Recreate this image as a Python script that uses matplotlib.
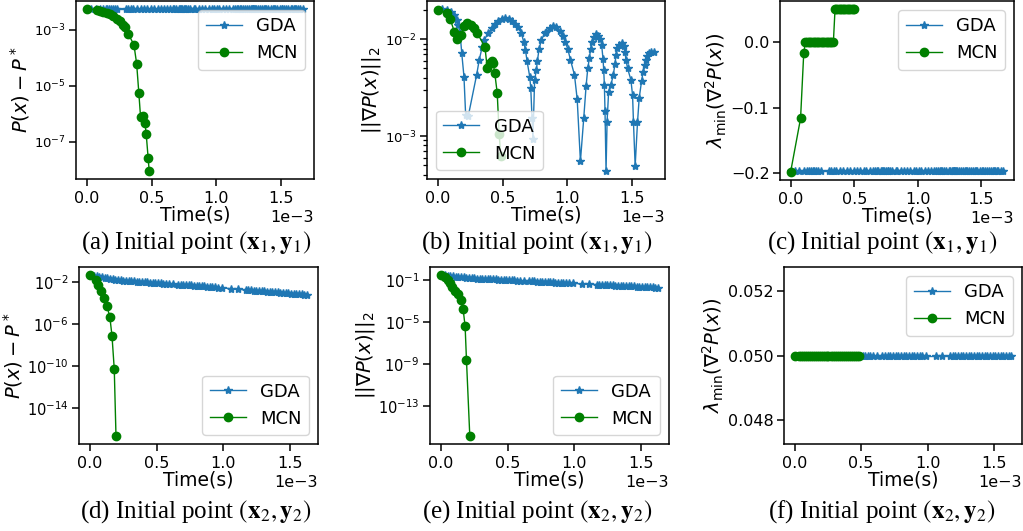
import matplotlib

matplotlib.use("Agg")
import matplotlib.pyplot as plt
from matplotlib.ticker import NullLocator

W, H = 1023, 531

# ---- run from initial point (x1, y1): panels (a), (b), (c) ----
# time stamps in units of 1e-3 s
t_gda_1 = [
    0.0, 0.035, 0.069, 0.102, 0.128, 0.146, 0.159, 0.172, 0.185, 0.202,
    0.215, 0.235, 0.3, 0.32, 0.343, 0.358, 0.389, 0.415, 0.44, 0.466,
    0.497, 0.523, 0.548, 0.574, 0.595, 0.62, 0.646, 0.664, 0.677, 0.69,
    0.71, 0.718, 0.728, 0.735, 0.748, 0.762, 0.769, 0.782, 0.8, 0.826,
    0.838, 0.864, 0.889, 0.915, 0.941, 0.966, 0.985, 1.005, 1.025, 1.056,
    1.077, 1.102, 1.128, 1.146, 1.159, 1.172, 1.18, 1.192, 1.205, 1.223,
    1.241, 1.256, 1.266, 1.277, 1.282, 1.287, 1.292, 1.3, 1.308, 1.32,
    1.338, 1.356, 1.369, 1.377, 1.387, 1.4, 1.42, 1.435, 1.446, 1.454,
    1.466, 1.492, 1.505, 1.512, 1.525, 1.543, 1.556, 1.574, 1.587, 1.6,
    1.608, 1.62, 1.633, 1.651, 1.672,
]
gda_grad_1 = [
    0.0201, 0.0204, 0.0201, 0.0191, 0.0176, 0.0158, 0.0139, 0.01148, 0.00714, 0.00411,
    0.00166, 0.0016, 0.00428, 0.0061, 0.00832, 0.00977, 0.01148, 0.0129, 0.01426, 0.0155,
    0.0162, 0.0166, 0.0162, 0.0155, 0.01426, 0.0132, 0.01148, 0.00933, 0.00776, 0.00589,
    0.00411, 0.00316, 0.00155, 0.00093, 0.0038, 0.00482, 0.00589, 0.00785, 0.00977, 0.01148,
    0.0119, 0.0129, 0.0136, 0.0132, 0.01216, 0.0107, 0.00933, 0.00785, 0.0061, 0.00427,
    0.0024, 0.00055, 0.00155, 0.00331, 0.00501, 0.00646, 0.00785, 0.00933, 0.01054, 0.01122,
    0.0107, 0.0100, 0.0087, 0.00617, 0.00479, 0.00339, 0.00182, 0.000437, 0.00141, 0.00288,
    0.00339, 0.00427, 0.00555, 0.00686, 0.00804, 0.0087, 0.00903, 0.00851, 0.00741, 0.0061,
    0.00501, 0.0038, 0.00263, 0.00138, 0.00049, 0.00138, 0.00245, 0.00366, 0.00462, 0.00542,
    0.0061, 0.0067, 0.00714, 0.00741, 0.00741,
]
# GDA stays flat in (a) and (c)
gda_obj_1 = [5.3e-3] * len(t_gda_1)
gda_lam_1 = [-0.197] * len(t_gda_1)

t_mcn_obj_1 = [0.0, 0.077, 0.102, 0.128, 0.154, 0.179, 0.205, 0.231, 0.256, 0.282, 0.295,
               0.32, 0.364, 0.385, 0.402, 0.415, 0.436, 0.449, 0.459, 0.474, 0.482]
mcn_obj_1 = [5.4e-3, 5.18e-3, 4.79e-3, 4.40e-3, 3.98e-3, 3.55e-3, 3.02e-3, 2.40e-3, 1.95e-3,
             1.51e-3, 1.26e-3, 7.0e-4, 2.91e-4, 6.1e-5, 5.5e-6, 7.9e-7, 8.5e-7, 4.7e-7,
             1.86e-7, 2.6e-8, 9.1e-9]

t_mcn_grad_1 = [0.0, 0.074, 0.095, 0.128, 0.151, 0.177, 0.202, 0.223, 0.254, 0.279,
                0.305, 0.364, 0.382, 0.402, 0.415, 0.428, 0.44, 0.459, 0.474, 0.487]
mcn_grad_1 = [0.0201, 0.0186, 0.0162, 0.0119, 0.00993, 0.011, 0.0136, 0.0145, 0.0139, 0.0129,
              0.01148, 0.00832, 0.00501, 0.00562, 0.006, 0.00562, 0.00447, 0.00278, 0.00105,
              0.000617]

t_mcn_lam_1 = [0.0, 0.078, 0.103,
               0.116, 0.128, 0.141, 0.154, 0.167, 0.18, 0.192, 0.205, 0.218,
               0.231, 0.244, 0.256, 0.269, 0.282, 0.295, 0.308, 0.32, 0.336,
               0.349, 0.36, 0.372, 0.385, 0.397, 0.41, 0.423, 0.436, 0.449,
               0.462, 0.474, 0.487, 0.5]
mcn_lam_1 = [-0.198, -0.1166, -0.017,
             0.0, 0.0, 0.0, 0.0, 0.0, 0.0, 0.0, 0.0, 0.0,
             0.0, 0.0, 0.0, 0.0, 0.0, 0.0, 0.0, 0.0, 0.0,
             0.05, 0.05, 0.05, 0.05, 0.05, 0.05, 0.05, 0.05, 0.05,
             0.05, 0.05, 0.05, 0.05]

# ---- run from initial point (x2, y2): panels (d), (e), (f) ----
t_gda_2 = [
    0.0, 0.03, 0.05, 0.07, 0.09, 0.11, 0.13, 0.15, 0.17, 0.19,
    0.21, 0.23, 0.25, 0.27, 0.29, 0.31, 0.33, 0.35, 0.37, 0.39,
    0.41, 0.43, 0.45, 0.47, 0.49, 0.51, 0.53, 0.55, 0.57, 0.59,
    0.62, 0.66, 0.68, 0.70, 0.72, 0.74, 0.76, 0.78, 0.80, 0.82,
    0.84, 0.86, 0.88, 0.90, 0.92, 0.94, 0.96, 0.99, 1.06, 1.11,
    1.17, 1.19, 1.21, 1.23, 1.25, 1.27, 1.29, 1.31, 1.33, 1.35,
    1.37, 1.39, 1.41, 1.43, 1.45, 1.47, 1.49, 1.51, 1.53, 1.55,
    1.57, 1.59, 1.61, 1.63,
]
gda_obj_2 = [
    0.0427, 0.0363, 0.0324, 0.0295, 0.0263, 0.0234, 0.0209, 0.0191, 0.0170, 0.0151,
    0.0141, 0.0135, 0.0129, 0.0123, 0.0117, 0.0112, 0.0107, 0.0102, 0.00977, 0.00933,
    0.00891, 0.00851, 0.00813, 0.00782, 0.0075, 0.00721, 0.00693, 0.00665, 0.0064, 0.00615,
    0.00579, 0.00535, 0.00514, 0.00494, 0.00474, 0.00456, 0.00438, 0.00421, 0.00405, 0.00389,
    0.00371, 0.00354, 0.00337, 0.00321, 0.00306, 0.00292, 0.00279, 0.00259, 0.00219, 0.00195,
    0.00169, 0.00161, 0.00153, 0.00146, 0.00139, 0.00133, 0.00127, 0.00121, 0.00115, 0.0011,
    0.00105, 0.000998, 0.000951, 0.000908, 0.000865, 0.000824, 0.000785, 0.00075, 0.000714, 0.000681,
    0.000649, 0.000619, 0.00059, 0.000562,
]
gda_grad_2 = [
    0.295, 0.27, 0.254, 0.239, 0.225, 0.212, 0.1995, 0.188, 0.177, 0.1667,
    0.1567, 0.148, 0.1419, 0.1377, 0.1337, 0.1297, 0.1259, 0.1225, 0.1189, 0.1153,
    0.1119, 0.1086, 0.1057, 0.1026, 0.0995, 0.0966, 0.0938, 0.0912, 0.0885, 0.0859,
    0.0822, 0.0774, 0.0752, 0.0731, 0.071, 0.0689, 0.0668, 0.0649, 0.0631, 0.0612,
    0.0594, 0.0577, 0.056, 0.0545, 0.0528, 0.0513, 0.0498, 0.0476, 0.043, 0.0399,
    0.0366, 0.0355, 0.0344, 0.0334, 0.0325, 0.0315, 0.0306, 0.0297, 0.0288, 0.0281,
    0.0272, 0.0264, 0.0256, 0.0249, 0.0242, 0.0235, 0.0228, 0.0221, 0.0215, 0.0209,
    0.0203, 0.0197, 0.0191, 0.0185,
]
gda_lam_2 = [0.05] * len(t_gda_2)

t_mcn_obj_2 = [0.0, 0.045, 0.062, 0.083, 0.108, 0.128, 0.15, 0.166, 0.183, 0.196]
mcn_obj_2 = [0.0427, 0.0145, 0.0049, 0.00141, 2.7e-4, 5.1e-5, 4.4e-6, 7.6e-8, 5.4e-11, 2.5e-17]

t_mcn_grad_2 = [0.0, 0.032, 0.05, 0.07, 0.087, 0.107, 0.125, 0.15, 0.167, 0.182, 0.192, 0.217]
mcn_grad_2 = [0.295, 0.18, 0.1, 0.049, 0.0234, 0.01, 0.00447, 0.00129, 1.7e-4, 4.0e-6,
              2.8e-9, 1.6e-16]

t_mcn_lam_2 = [0.0, 0.03, 0.045, 0.06, 0.075, 0.09, 0.105, 0.12, 0.135, 0.15,
               0.165, 0.18, 0.195, 0.21, 0.225, 0.24, 0.25, 0.275, 0.29, 0.305,
               0.32, 0.335, 0.35, 0.365, 0.38, 0.395, 0.41, 0.425, 0.44, 0.455,
               0.47, 0.485]
mcn_lam_2 = [0.05] * len(t_mcn_lam_2)

# y tick positions shown on the long log axes
yticks_obj_2 = [1e-2, 1e-6, 1e-10, 1e-14]
yticks_grad_2 = [1e-1, 1e-5, 1e-9, 1e-13]

Y_OBJ = r"$P(x) - P^*$"
Y_GRAD = r"$||\nabla P(x)||_2$"
Y_LAM = r"$\lambda_{\min}(\nabla^2 P(x))$"

plt.rcParams.update(
    {
        "font.family": "DejaVu Sans",
        "xtick.labelsize": 11.5,
        "ytick.labelsize": 11.5,
        "axes.labelsize": 13.5,
        "legend.fontsize": 13,
        "axes.linewidth": 1.1,
        "xtick.major.size": 5,
        "ytick.major.size": 5,
        "xtick.major.width": 1.1,
        "ytick.major.width": 1.1,
        "ytick.minor.size": 3,
        "ytick.minor.width": 0.9,
        "xtick.major.pad": 3.5,
        "ytick.major.pad": 2.5,
    }
)


def add_panel(fig, box, t_gda, y_gda, t_mcn, y_mcn, ylabel, loc, log=False,
              yticks=None, minor=True, ysize=9.5):
    l, t, r, b = box
    ax = fig.add_axes([l / W, 1 - b / H, (r - l) / W, (b - t) / H])
    ax.plot([v * 1e-3 for v in t_gda], y_gda, marker="*", color="#1f77b4",
            linewidth=1.0, markersize=6, label="GDA")
    ax.plot([v * 1e-3 for v in t_mcn], y_mcn, marker="o", color="green",
            linewidth=1.0, markersize=6, label="MCN")
    if log:
        ax.set_yscale("log")
        ax.tick_params(axis="y", labelsize=ysize)
        if yticks is not None:
            ax.set_yticks(yticks)
        if not minor:
            ax.yaxis.set_minor_locator(NullLocator())
    ax.ticklabel_format(axis="x", style="sci", scilimits=(0, 0))
    ax.set_xlabel("Time(s)", labelpad=0)
    ax.set_ylabel(ylabel, labelpad=1, fontsize=14)
    ax.legend(loc=loc)
    return ax


fig = plt.figure(figsize=(W / 100, H / 100), dpi=100)

add_panel(fig, (76, 1, 314, 179), t_gda_1, gda_obj_1, t_mcn_obj_1, mcn_obj_1, Y_OBJ,
          "upper right", log=True, minor=False)
add_panel(fig, (427, 1, 665, 179), t_gda_1, gda_grad_1, t_mcn_grad_1, mcn_grad_1, Y_GRAD,
          "lower left", log=True)
add_panel(fig, (780, 1, 1014, 180), t_gda_1, gda_lam_1, t_mcn_lam_1, mcn_lam_1, Y_LAM,
          "upper right")
add_panel(fig, (79, 267, 318, 444), t_gda_2, gda_obj_2, t_mcn_obj_2, mcn_obj_2, Y_OBJ,
          "lower right", log=True, yticks=yticks_obj_2, minor=False, ysize=10.5)
add_panel(fig, (430, 267, 669, 444), t_gda_2, gda_grad_2, t_mcn_grad_2, mcn_grad_2, Y_GRAD,
          "lower right", log=True, yticks=yticks_grad_2, minor=False, ysize=10.5)
add_panel(fig, (784, 267, 1022, 444), t_gda_2, gda_lam_2, t_mcn_lam_2, mcn_lam_2, Y_LAM,
          "upper right")

captions = [
    ("(a)", 1, 196, 243), ("(b)", 1, 537, 243), ("(c)", 1, 882, 243),
    ("(d)", 2, 196, 512), ("(e)", 2, 537, 512), ("(f)", 2, 882, 512),
]
for tag, k, cx, cy in captions:
    fig.text(cx / W, 1 - cy / H,
             tag + r" Initial point $(\mathbf{x}_%d, \mathbf{y}_%d)$" % (k, k),
             ha="center", va="center", fontsize=18,
             family="Liberation Serif", math_fontfamily="stix")

fig.savefig("out.png", dpi=100)
